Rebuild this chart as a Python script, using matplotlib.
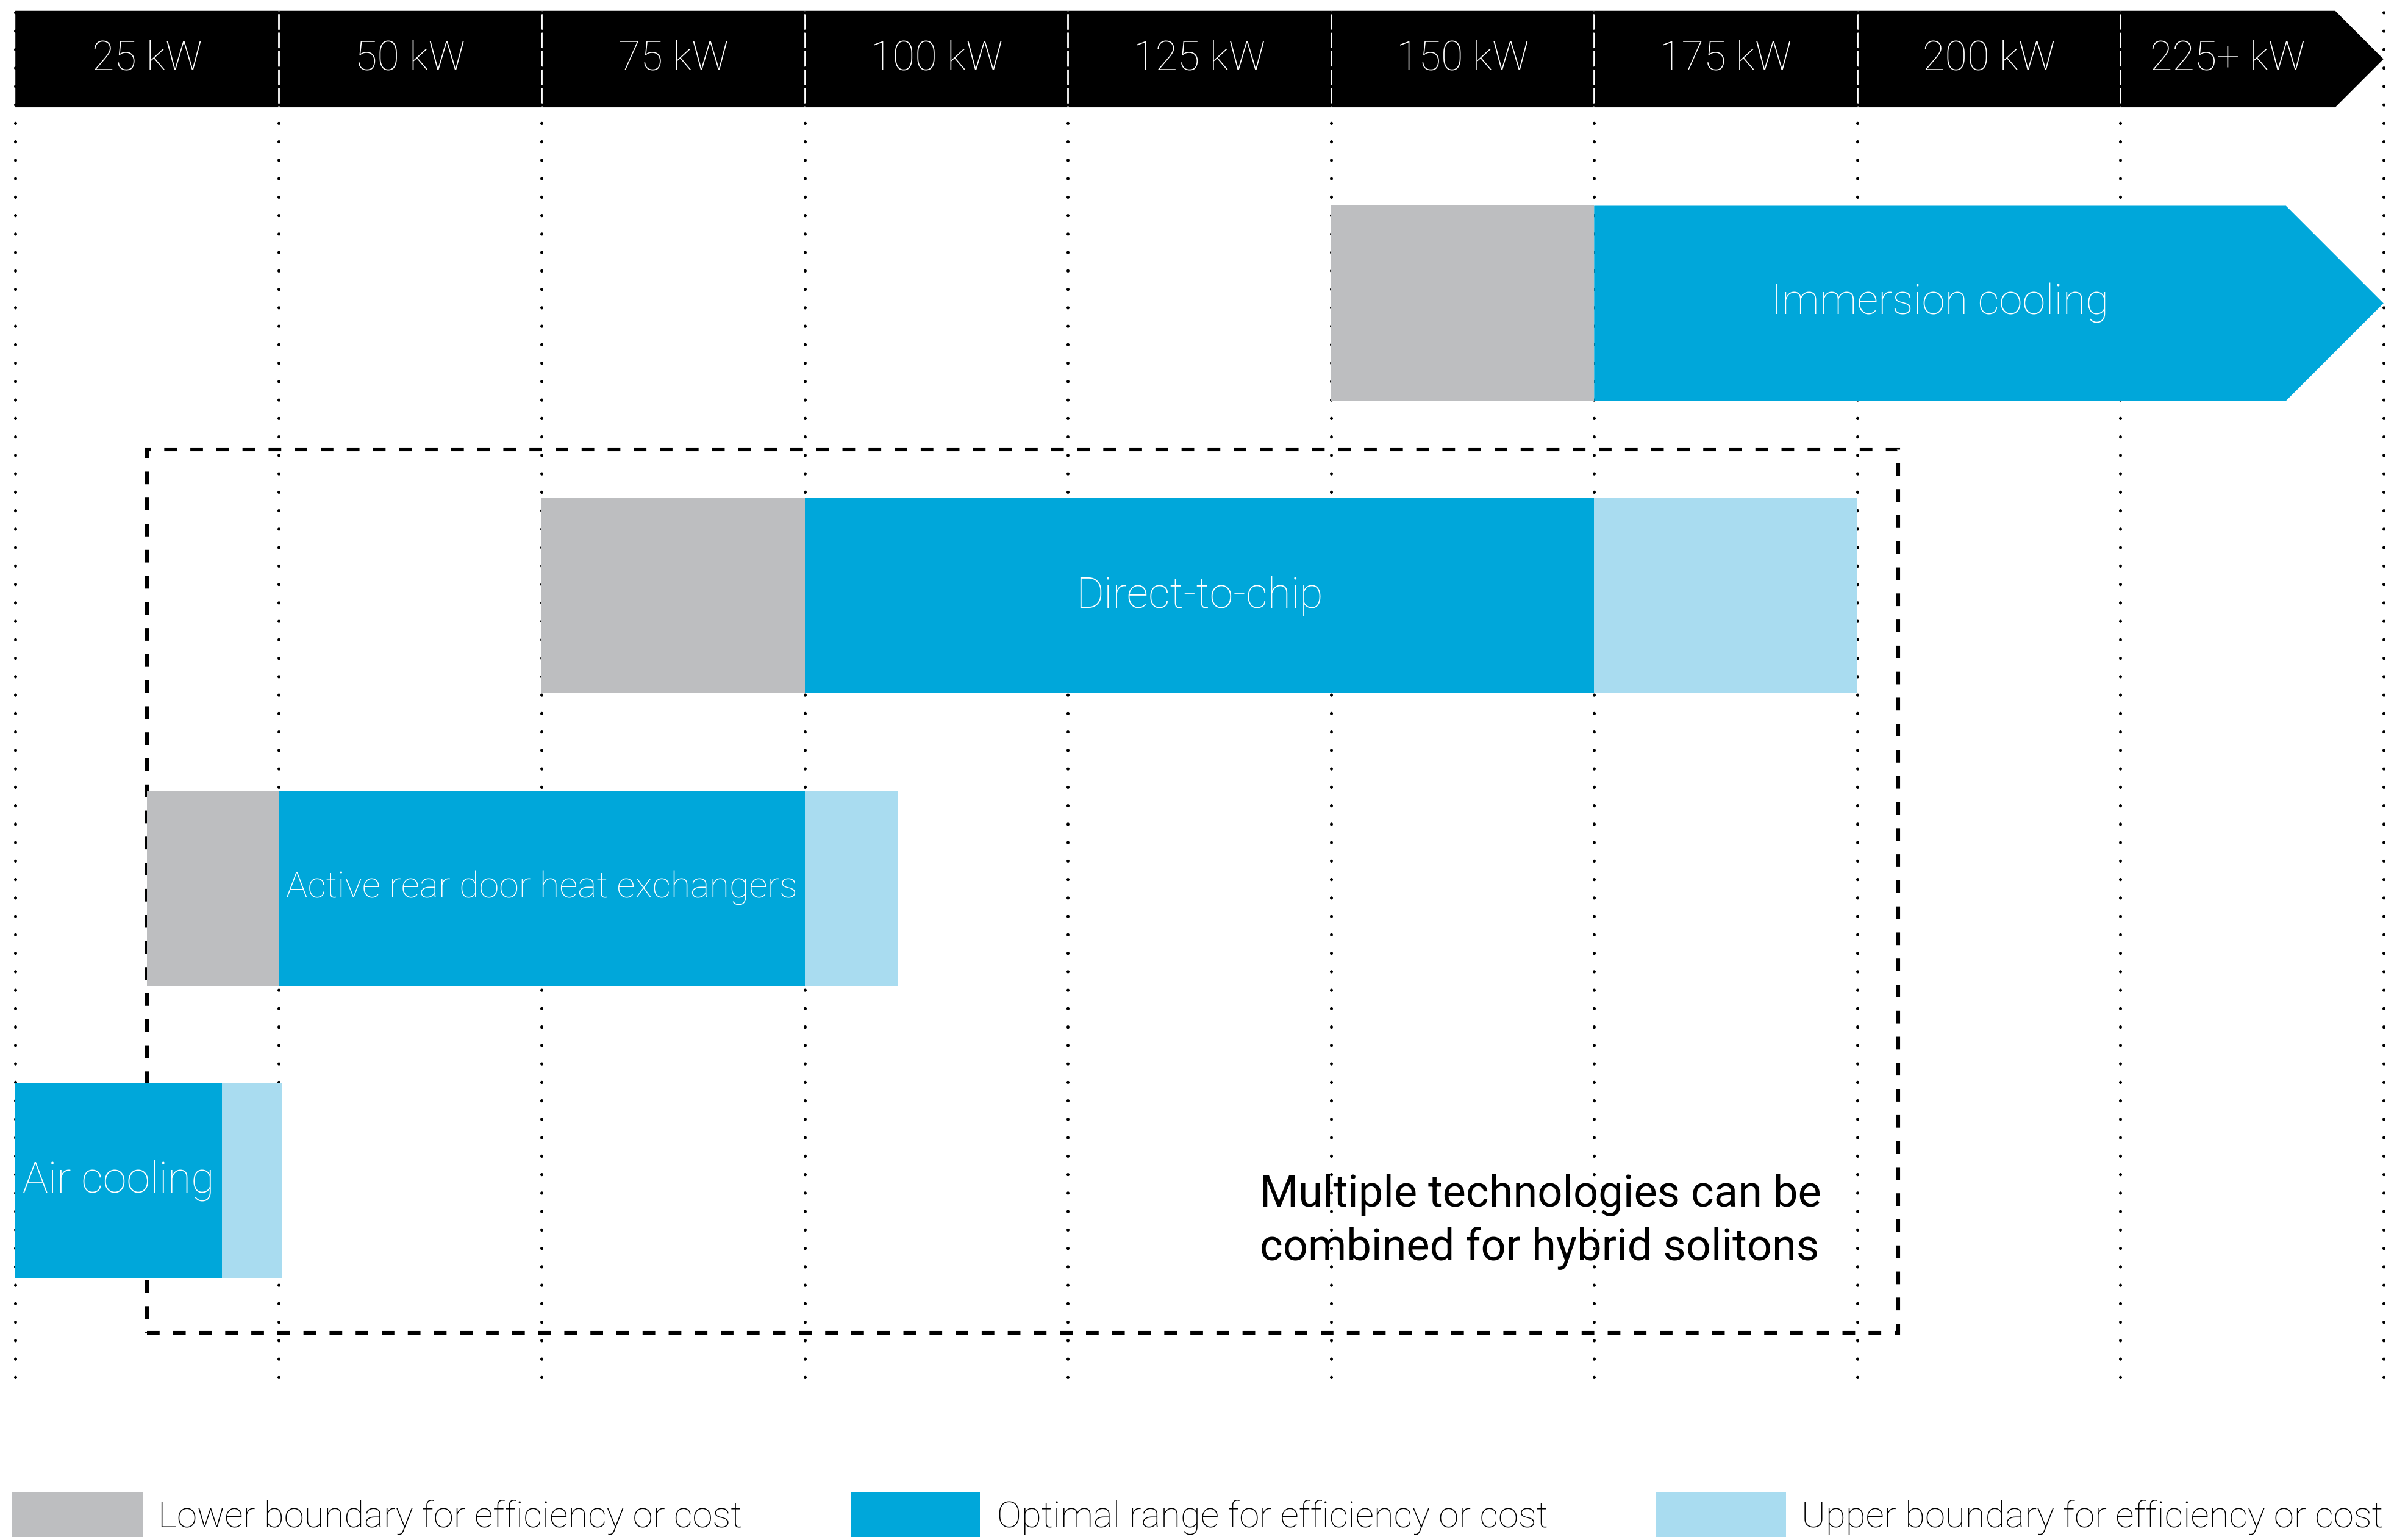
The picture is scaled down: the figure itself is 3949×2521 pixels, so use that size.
import matplotlib.pyplot as plt
from matplotlib.patches import Polygon, Rectangle

# header columns (each column spans 25 kW)
columns = ['25 kW', '50 kW', '75 kW', '100 kW', '125 kW', '150 kW', '175 kW', '200 kW', '225+ kW']
col_width = 25

techs = ['Air cooling', 'Active rear door heat exchangers', 'Direct-to-chip', 'Immersion cooling']
lower_start = [None, 12.5, 50, 125]
optimal_start = [0, 25, 75, 150]
optimal_end = [19.6, 75, 150, 225]
upper_end = [25.3, 83.8, 175, None]
open_ended = [False, False, False, True]

hybrid_span = [12.5, 178.9]
hybrid_note = 'Multiple technologies can be\ncombined for hybrid solitons'

legend_labels = ['Lower boundary for efficiency or cost',
                 'Optimal range for efficiency or cost',
                 'Upper boundary for efficiency or cost']

GRAY = '#bdbec0'
BLUE = '#00a7da'
LIGHT = '#a9dcf0'
FONT = 'Roboto'

fig = plt.figure(figsize=(3949 / 200, 2521 / 200), dpi=200)
ax = fig.add_axes([0, 0, 1, 1])
ax.set_xlim(-1.46, 227.33)
ax.set_ylim(-1.218, 4.037)
ax.axis('off')

bar_h = 0.667
head_y, head_h = 3.835, 0.33
x_max = col_width * len(columns)

# kW per row in screen terms, to make 45 degree arrow heads
fig.canvas.draw()
p0 = ax.transData.transform((0, 0))
p1 = ax.transData.transform((1, 1))
kw_per_row = (p1[1] - p0[1]) / (p1[0] - p0[0])


def arrow_poly(x0, x1, yc, h, **kw):
    head = h / 2 * kw_per_row
    pts = [(x0, yc - h / 2), (x1 - head, yc - h / 2), (x1, yc),
           (x1 - head, yc + h / 2), (x0, yc + h / 2)]
    return Polygon(pts, closed=True, **kw)


# header band
ax.add_patch(arrow_poly(0, x_max, head_y, head_h, facecolor='black', edgecolor='none', zorder=2))
for i, lab in enumerate(columns):
    xc = (i + 0.5) * col_width
    if i == len(columns) - 1:
        xc = (i * col_width + x_max - head_h / 2 * kw_per_row) / 2
    ax.text(xc, head_y, lab, color='white', ha='center', va='center',
            fontsize=24, family=FONT, fontweight='light', zorder=5)

# dotted grid lines
bounds = [i * col_width for i in range(len(columns) + 1)]
ax.vlines(bounds[1:-1], head_y - head_h / 2, head_y + head_h / 2, color='white', lw=1.0, zorder=3)
dots = ax.vlines(bounds, -0.672, 4.0, color='black', lw=1.8, linestyles=(0, (0.05, 6.0)),
                 zorder=3.5)
dots.set_capstyle('round')

# hybrid dashed box
box = Rectangle((hybrid_span[0], -0.52), hybrid_span[1] - hybrid_span[0], 3.02,
                fill=False, edgecolor='black', lw=2.2, linestyle=(0, (3.4, 3.6)), zorder=3.6)
ax.add_patch(box)
ax.text(144.9, -0.14, hybrid_note, ha='center', va='center',
        multialignment='left', fontsize=26, family=FONT, linespacing=1.32, zorder=6)

# technology bars
label_size = [25.2, 21.4, 25.2, 24.8]
for i, name in enumerate(techs):
    if lower_start[i] is not None:
        ax.barh(i, optimal_start[i] - lower_start[i], left=lower_start[i], height=bar_h,
                color=GRAY, zorder=4)
    if open_ended[i]:
        ax.add_patch(arrow_poly(optimal_start[i], optimal_end[i], i, bar_h,
                                facecolor=BLUE, edgecolor='none', zorder=4))
        xc = (optimal_start[i] + optimal_end[i] - bar_h / 2 * kw_per_row) / 2
    else:
        ax.barh(i, optimal_end[i] - optimal_start[i], left=optimal_start[i], height=bar_h,
                color=BLUE, zorder=4)
        xc = (optimal_start[i] + optimal_end[i]) / 2
    if upper_end[i] is not None:
        ax.barh(i, upper_end[i] - optimal_end[i], left=optimal_end[i], height=bar_h,
                color=LIGHT, zorder=4)
    ax.text(xc, i, name, color='white', ha='center', va='center', fontsize=label_size[i],
            family=FONT, fontweight='light', zorder=6)

# legend along the bottom
W, H = 1568, 1001
for (px0, px1, tx), col, lab in zip([(8, 93, 103), (554, 638, 649), (1078, 1163, 1173)],
                                    [GRAY, BLUE, LIGHT], legend_labels):
    fig.patches.append(Rectangle((px0 / W, 0), (px1 - px0) / W, 29 / H, transform=fig.transFigure,
                                 facecolor=col, edgecolor='none'))
    fig.text(tx / W, 1 - 988 / H, lab, ha='left', va='center', fontsize=21.6, family=FONT,
             fontweight='light')

fig.savefig('out.png', dpi=200)
